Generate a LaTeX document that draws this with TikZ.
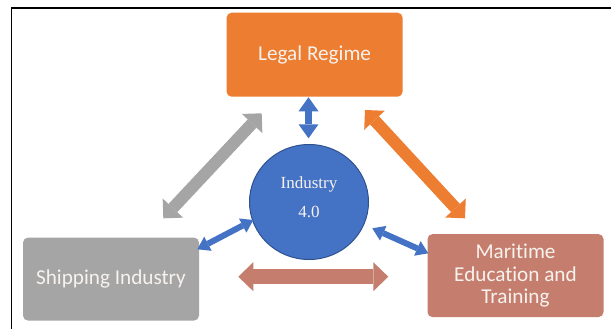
\documentclass[tikz,border=0pt]{standalone}
\usepackage{fontspec}
\setmainfont{Carlito}[Ligatures=NoCommon]
\newfontfamily\timesfont{Liberation Serif}
\usetikzlibrary{arrows.meta,shapes.geometric}
\definecolor{legalc}{HTML}{ED7D31}
\definecolor{grayc}{HTML}{A5A5A5}
\definecolor{brownc}{HTML}{C57E6E}
\definecolor{bluec}{HTML}{4472C4}
\definecolor{bluedark}{HTML}{2F528F}
\definecolor{boxtext}{HTML}{F7F2EE}
\tikzset{
  box/.style={rounded corners=5pt, minimum width=176pt, minimum height=83pt,
    align=center, text=boxtext, inner sep=0pt,
    font=\fontsize{21.2}{22.5}\selectfont},
  bigarrow/.style={line width=12pt, draw=#1,
    {Triangle[width=28pt,length=14pt,line width=0pt,fill=#1]}-{Triangle[width=28pt,length=14pt,line width=0pt,fill=#1]}},
  brownarrow/.style={line width=15pt, draw=brownc,
    {Triangle[width=29pt,length=15pt,line width=0pt,fill=brownc]}-{Triangle[width=29pt,length=15pt,line width=0pt,fill=brownc]}},
  vblue/.style={line width=7pt, draw=bluec,
    {Triangle[width=20pt,length=14pt,line width=0pt,fill=bluec]}-{Triangle[width=20pt,length=14pt,line width=0pt,fill=bluec]}},
  sblue/.style={line width=6pt, draw=bluec,
    {Triangle[width=16pt,length=12pt,line width=0pt,fill=bluec]}-{Triangle[width=16pt,length=12pt,line width=0pt,fill=bluec]}}
}
\begin{document}
\begin{tikzpicture}[x=1pt,y=-1pt]
\path[use as bounding box, fill=white] (0,0) rectangle (611,329);
\draw[line width=1.5pt] (11.5,329) -- (11.5,8) -- (611,8);

\node[box, fill=legalc, minimum height=84pt] (legal) at (314.6,54.7) {Legal Regime};
\node[box, fill=grayc] (ship) at (111,279.1) {Shipping Industry};
\node[box, fill=brownc] (mar) at (515.5,275.6) {Maritime\\Education and\\Training};
\node[ellipse, fill=bluec, draw=bluedark, line width=1pt, minimum width=119pt, minimum height=115pt,
  text=boxtext, align=center, font=\timesfont\fontsize{17}{29}\selectfont] (ind) at (309,202) {Industry\\4.0\\[-20pt]};

\coordinate (g1) at (163.3,218.3);
\coordinate (g2) at (261.7,113.3);
\coordinate (o1) at (365,110);
\coordinate (o2) at (465,218.3);
\coordinate (b1) at (238.3,276.7);
\coordinate (b2) at (388.3,276.7);
\coordinate (v1) at (308.5,97.3);
\coordinate (v2) at (308.5,138.3);
\coordinate (l1) at (197.3,249.3);
\coordinate (l2) at (253.3,220);
\coordinate (r1) at (372.3,228.3);
\coordinate (r2) at (428.3,253.3);

\draw[bigarrow=grayc] (g1) -- (g2);
\draw[bigarrow=legalc] (o1) -- (o2);
\draw[brownarrow] (b1) -- (b2);
\draw[vblue] (v1) -- (v2);
\draw[sblue] (l1) -- (l2);
\draw[sblue] (r1) -- (r2);
\end{tikzpicture}
\end{document}
